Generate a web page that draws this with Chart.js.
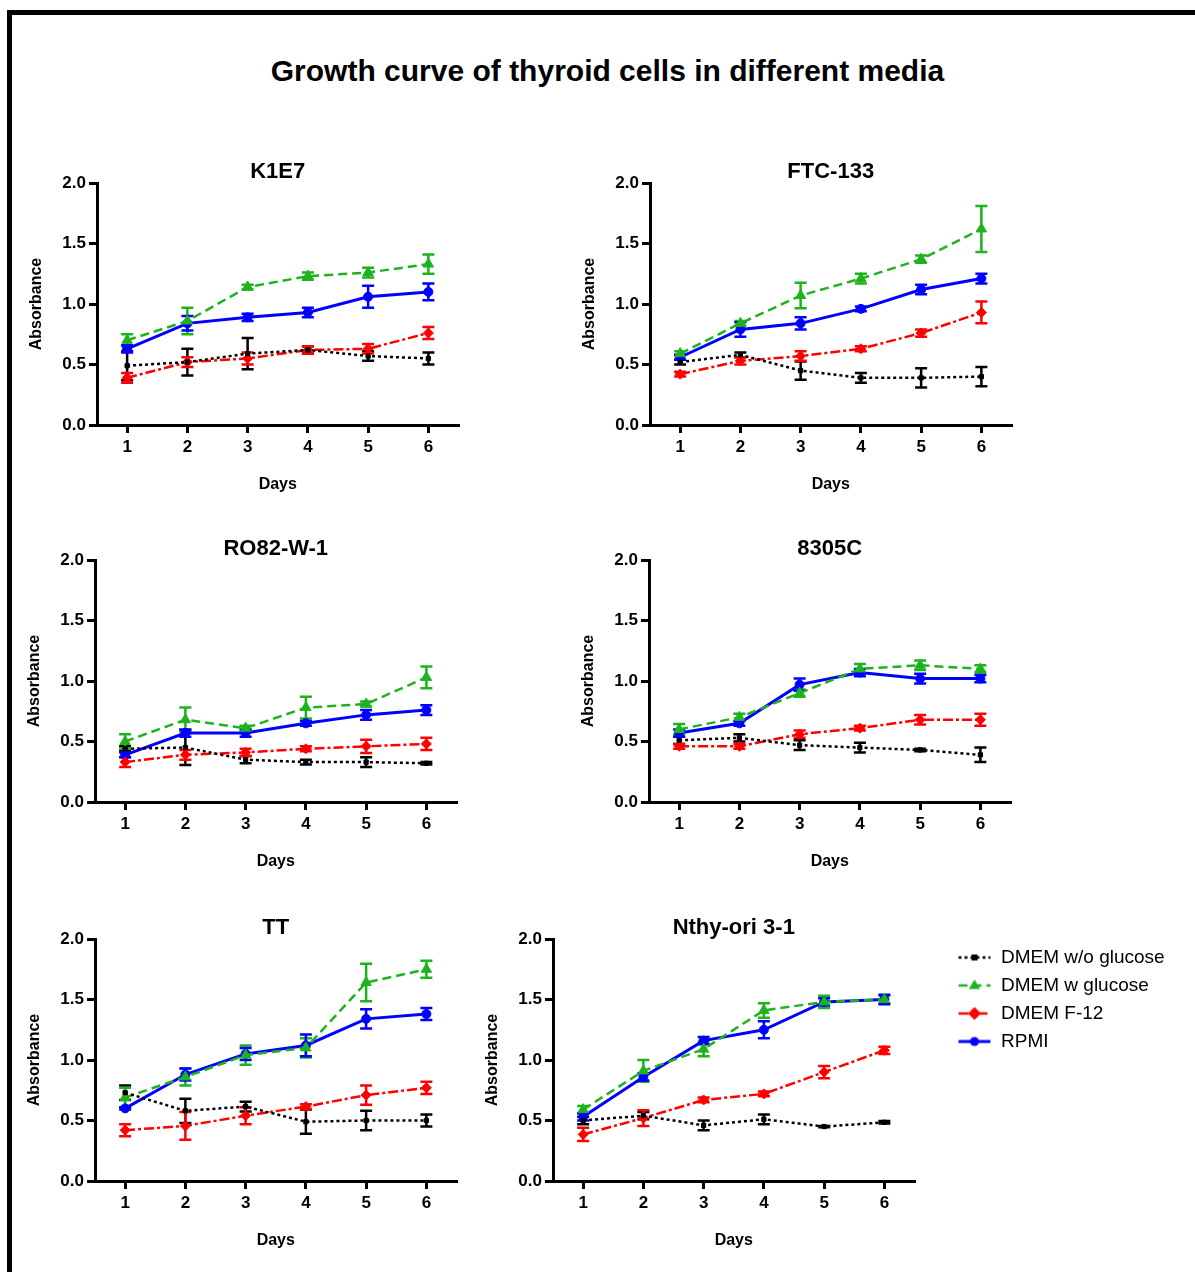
<!DOCTYPE html>
<html>
<head>
<meta charset="utf-8">
<script src="https://cdn.jsdelivr.net/npm/chart.js@4.4.1/dist/chart.umd.min.js"></script>
<style>
  body { margin: 0; width: 1195px; height: 1272px; background: #fff; position: relative; overflow: hidden;
         font-family: "Liberation Sans", Arial, sans-serif; }
  #frame { position: absolute; left: 7px; top: 10px; width: 1200px; height: 1280px;
           border-left: 5px solid #000; border-top: 5px solid #000; }
  #title { position: absolute; left: 0; width: 1215px; top: 54px; text-align: center;
           font-weight: bold; font-size: 30px; line-height: 34px; color: #000; }
  canvas { position: absolute; }
</style>
</head>
<body>
<div id="frame"></div>
<div id="title">Growth curve of thyroid cells in different media</div>
<canvas id="c1" width="460" height="350" style="left:20px;top:149px"></canvas>
<canvas id="c2" width="460" height="350" style="left:573px;top:149px"></canvas>
<canvas id="c3" width="460" height="350" style="left:18px;top:526px"></canvas>
<canvas id="c4" width="460" height="350" style="left:572px;top:526px"></canvas>
<canvas id="c5" width="460" height="350" style="left:18px;top:905px"></canvas>
<canvas id="c6" width="719" height="350" style="left:476px;top:905px"></canvas>

<script>
// x categories and y ticks
const days = ['1', '2', '3', '4', '5', '6'];
const yTicks = [0, 0.5, 1.0, 1.5, 2.0];
const media = ['DMEM w/o glucose', 'DMEM w glucose', 'DMEM F-12', 'RPMI'];

// rows: DMEM w/o glucose, DMEM w glucose, DMEM F-12, RPMI
const k1e7Mean = [
  [0.49, 0.52, 0.59, 0.62, 0.57, 0.55],
  [0.70, 0.86, 1.14, 1.23, 1.26, 1.33],
  [0.39, 0.52, 0.55, 0.62, 0.63, 0.76],
  [0.63, 0.84, 0.89, 0.93, 1.06, 1.10]
];
const k1e7Sd = [
  [0.12, 0.11, 0.13, 0.03, 0.04, 0.05],
  [0.05, 0.11, 0.02, 0.03, 0.04, 0.08],
  [0.04, 0.04, 0.05, 0.03, 0.04, 0.05],
  [0.03, 0.06, 0.03, 0.04, 0.09, 0.07]
];

const ftcMean = [
  [0.52, 0.58, 0.45, 0.39, 0.39, 0.40],
  [0.59, 0.84, 1.07, 1.21, 1.37, 1.62],
  [0.42, 0.53, 0.57, 0.63, 0.76, 0.93],
  [0.56, 0.79, 0.84, 0.96, 1.12, 1.21]
];
const ftcSd = [
  [0.02, 0.02, 0.075, 0.04, 0.08, 0.08],
  [0.02, 0.02, 0.105, 0.04, 0.03, 0.19],
  [0.02, 0.03, 0.04, 0.02, 0.03, 0.09],
  [0.02, 0.06, 0.05, 0.02, 0.04, 0.04]
];

const ro82Mean = [
  [0.44, 0.45, 0.35, 0.33, 0.33, 0.32],
  [0.50, 0.68, 0.61, 0.78, 0.81, 1.03],
  [0.33, 0.39, 0.41, 0.44, 0.46, 0.48],
  [0.39, 0.57, 0.57, 0.65, 0.72, 0.76]
];
const ro82Sd = [
  [0.02, 0.145, 0.03, 0.02, 0.04, 0.01],
  [0.06, 0.10, 0.02, 0.09, 0.02, 0.09],
  [0.04, 0.04, 0.03, 0.02, 0.055, 0.05],
  [0.02, 0.03, 0.03, 0.02, 0.04, 0.04]
];

const c8305Mean = [
  [0.51, 0.53, 0.47, 0.45, 0.43, 0.39],
  [0.60, 0.70, 0.90, 1.10, 1.13, 1.10],
  [0.46, 0.46, 0.56, 0.61, 0.68, 0.68],
  [0.57, 0.65, 0.97, 1.07, 1.02, 1.02]
];
const c8305Sd = [
  [0.03, 0.03, 0.04, 0.04, 0.01, 0.06],
  [0.045, 0.03, 0.03, 0.04, 0.04, 0.03],
  [0.02, 0.02, 0.03, 0.02, 0.04, 0.05],
  [0.03, 0.02, 0.05, 0.03, 0.04, 0.03]
];

const ttMean = [
  [0.73, 0.58, 0.615, 0.49, 0.50, 0.50],
  [0.69, 0.86, 1.04, 1.10, 1.64, 1.75],
  [0.42, 0.455, 0.54, 0.615, 0.71, 0.77],
  [0.60, 0.88, 1.05, 1.12, 1.34, 1.38]
];
const ttSd = [
  [0.06, 0.10, 0.04, 0.10, 0.08, 0.05],
  [0.08, 0.07, 0.08, 0.08, 0.155, 0.07],
  [0.05, 0.115, 0.07, 0.02, 0.08, 0.05],
  [0.01, 0.05, 0.05, 0.09, 0.08, 0.05]
];

const nthyMean = [
  [0.50, 0.54, 0.46, 0.51, 0.45, 0.485],
  [0.59, 0.91, 1.09, 1.41, 1.48, 1.50],
  [0.385, 0.52, 0.67, 0.72, 0.90, 1.08],
  [0.53, 0.86, 1.16, 1.25, 1.48, 1.50]
];
const nthySd = [
  [0.03, 0.03, 0.04, 0.04, 0.005, 0.01],
  [0.03, 0.09, 0.06, 0.06, 0.05, 0.03],
  [0.055, 0.065, 0.02, 0.02, 0.05, 0.03],
  [0.03, 0.03, 0.03, 0.07, 0.03, 0.04]
];

const FONT = '"Liberation Sans", Arial, Helvetica, sans-serif';
Chart.defaults.font.family = FONT;
Chart.defaults.color = '#000';

// look of each medium
const colors = ['#000000', '#1db31d', '#ff0000', '#0000ff'];
const dashes = [[3, 3], [9, 5], [10, 3, 3, 3], []];
const markers = ['rect', 'triangle', 'rectRot', 'circle'];
const markerSize = [3, 6, 5, 4.5];
const lineWidths = [2.5, 2.5, 2.5, 3];

// error bars (mean ± sd) drawn through the y scale
const errorBars = {
  id: 'errorBars',
  beforeDatasetsDraw(chart) {
    const ctx = chart.ctx, y = chart.scales.y;
    chart.data.datasets.forEach((ds, i) => {
      const meta = chart.getDatasetMeta(i);
      if (meta.hidden) return;
      ctx.save();
      ctx.strokeStyle = ds.borderColor;
      ctx.lineWidth = 2.5;
      meta.data.forEach((pt, j) => {
        const e = ds.errors[j];
        if (!e) return;
        const top = y.getPixelForValue(ds.data[j] + e);
        const bot = y.getPixelForValue(ds.data[j] - e);
        ctx.beginPath();
        ctx.moveTo(pt.x, top); ctx.lineTo(pt.x, bot);
        ctx.moveTo(pt.x - 6, top); ctx.lineTo(pt.x + 6, top);
        ctx.moveTo(pt.x - 6, bot); ctx.lineTo(pt.x + 6, bot);
        ctx.stroke();
      });
      ctx.restore();
    });
  }
};

function drawMarker(g, style, x, y, r) {
  g.beginPath();
  if (style === 'circle') g.arc(x, y, r, 0, Math.PI * 2);
  else if (style === 'rect') g.rect(x - r, y - r, 2 * r, 2 * r);
  else if (style === 'rectRot') { g.moveTo(x, y - r * 1.3); g.lineTo(x + r * 1.3, y); g.lineTo(x, y + r * 1.3); g.lineTo(x - r * 1.3, y); g.closePath(); }
  else if (style === 'triangle') { g.moveTo(x, y - r); g.lineTo(x + r * 0.95, y + r * 0.6); g.lineTo(x - r * 0.95, y + r * 0.6); g.closePath(); }
  g.fill();
}

// legend sample: line piece with the marker, right part of a 68px wide image
function legendSample(i) {
  const c = document.createElement('canvas');
  c.width = 68; c.height = 16;
  const g = c.getContext('2d');
  g.strokeStyle = colors[i];
  g.fillStyle = colors[i];
  g.lineWidth = lineWidths[i];
  g.setLineDash(dashes[i]);
  g.beginPath(); g.moveTo(35, 8); g.lineTo(67, 8); g.stroke();
  g.setLineDash([]);
  drawMarker(g, markers[i], 51, 8, markerSize[i]);
  return c;
}

function makeChart(id, title, means, sds, showLegend) {
  const datasets = media.map((name, i) => ({
    label: name,
    data: means[i],
    errors: sds[i],
    borderColor: colors[i],
    backgroundColor: colors[i],
    borderWidth: lineWidths[i],
    borderDash: dashes[i],
    pointStyle: markers[i],
    pointRadius: markerSize[i],
    pointBorderWidth: 1,
    tension: 0,
    fill: false
  }));
  const axisFont = { size: 17, weight: 'bold' };
  return new Chart(document.getElementById(id), {
    type: 'line',
    data: { labels: days, datasets },
    options: {
      responsive: false,
      animation: false,
      events: [],
      layout: { padding: { left: 0, top: 0, right: 21.5, bottom: 0 } },
      plugins: {
        title: {
          display: true, text: title, fullSize: false,
          font: { size: 22, weight: 'bold', lineHeight: 1 },
          padding: { top: 12, bottom: 0 }, color: '#000'
        },
        legend: {
          display: showLegend, position: 'right', align: 'start', fullSize: false, maxWidth: 400,
          labels: {
            usePointStyle: true, pointStyleWidth: 68, padding: 9, color: '#000',
            font: { size: 19 },
            generateLabels: () => media.map((name, i) => ({
              text: name, pointStyle: legendSample(i), fillStyle: colors[i],
              strokeStyle: colors[i], lineWidth: 0, hidden: false, datasetIndex: i
            }))
          }
        },
        tooltip: { enabled: false }
      },
      scales: {
        x: {
          type: 'category', offset: true,
          grid: { display: true, drawOnChartArea: false, drawTicks: true, tickLength: 8,
                  offset: false, color: '#000', lineWidth: 3 },
          border: { display: true, color: '#000', width: 3 },
          ticks: { font: axisFont, color: '#000', padding: 4, maxRotation: 0 },
          title: { display: true, text: 'Days', font: { size: 16, weight: 'bold' },
                   color: '#000', padding: { top: 0, bottom: 4.5 } },
          afterFit: s => { s.height = 74; }
        },
        y: {
          min: 0, max: 2,
          afterBuildTicks: s => { s.ticks = yTicks.map(v => ({ value: v })); },
          grid: { display: true, drawOnChartArea: false, drawTicks: true, tickLength: 8,
                  color: '#000', lineWidth: 3 },
          border: { display: true, color: '#000', width: 3 },
          ticks: { font: axisFont, color: '#000', padding: 3, callback: v => Number(v).toFixed(1) },
          title: { display: true, text: 'Absorbance', font: { size: 16, weight: 'bold' },
                   color: '#000', padding: { top: 6.5, bottom: 0 } },
          afterFit: s => { s.width = 77; }
        }
      }
    },
    plugins: [errorBars]
  });
}

makeChart('c1', 'K1E7', k1e7Mean, k1e7Sd, false);
makeChart('c2', 'FTC-133', ftcMean, ftcSd, false);
makeChart('c3', 'RO82-W-1', ro82Mean, ro82Sd, false);
makeChart('c4', '8305C', c8305Mean, c8305Sd, false);
makeChart('c5', 'TT', ttMean, ttSd, false);
const last = makeChart('c6', 'Nthy-ori 3-1', nthyMean, nthySd, true);

// keep the last panel's plot area as wide as the others, legend to its right
const targetRight = 77 + 361.5;
const pad = last.options.layout.padding.right + (last.chartArea.right - targetRight);
last.options.layout.padding = { left: 0, top: 0, right: Math.max(0, pad), bottom: 0 };
last.update('none');
</script>
</body>
</html>
